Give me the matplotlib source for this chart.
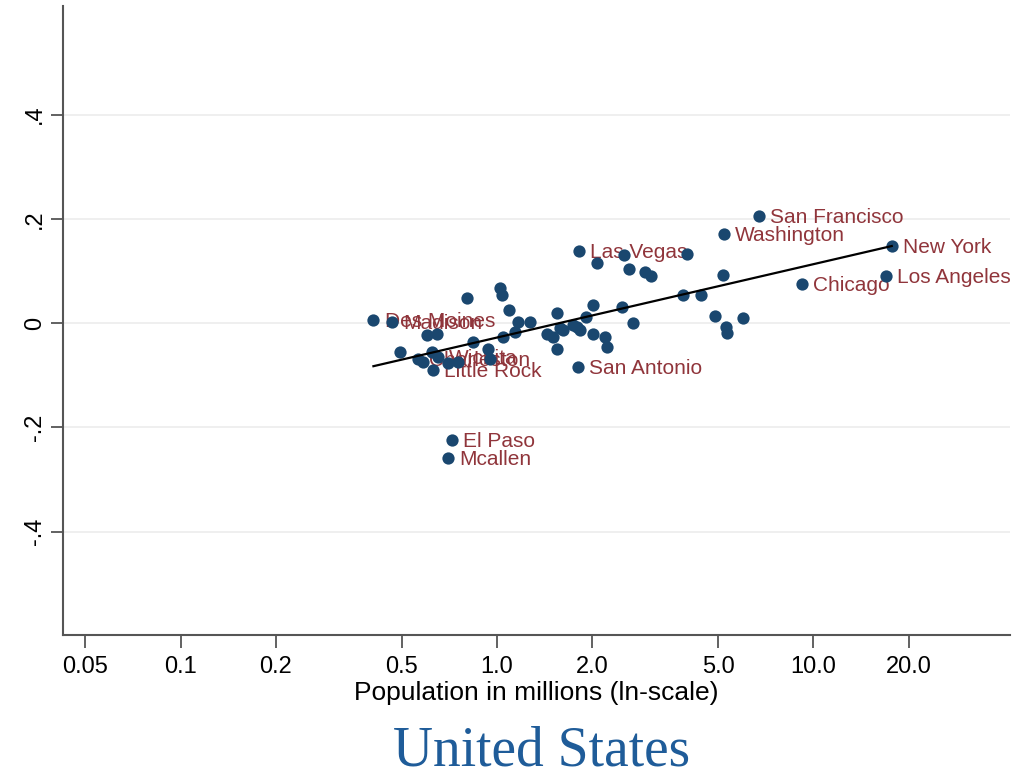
import numpy as np
import matplotlib
matplotlib.use('Agg')
import matplotlib.pyplot as plt

plt.rcParams['font.family'] = ['Liberation Sans', 'DejaVu Sans']

# population in millions and the y value, one entry per city
pop = [0.407, 0.465, 0.802, 1.022, 1.035, 1.094, 1.544, 2.011, 2.477, 2.696,
       0.599, 0.648, 1.168, 1.271, 1.140, 1.047, 0.842, 0.494, 0.564, 0.585,
       0.622, 0.652, 0.702, 0.755, 0.939, 0.950, 0.629, 1.436, 1.506, 1.581,
       1.544, 1.742, 1.829, 2.015, 2.194, 2.222, 1.806, 1.812, 2.070, 2.519,
       2.607, 2.929, 3.060, 3.976, 5.19, 3.862, 4.421, 4.895, 5.291, 5.318,
       5.988, 6.727, 5.215, 17.70, 16.94, 9.20, 0.721, 0.700, 1.911, 1.620,
       1.786]
val = [0.006, 0.002, 0.049, 0.067, 0.054, 0.026, 0.019, 0.035, 0.031, 0.001,
       -0.023, -0.020, 0.002, 0.002, -0.017, -0.026, -0.036, -0.055, -0.068, -0.074,
       -0.055, -0.065, -0.077, -0.074, -0.049, -0.068, -0.090, -0.020, -0.026, -0.010,
       -0.049, -0.004, -0.013, -0.020, -0.026, -0.045, -0.084, 0.139, 0.116, 0.130,
       0.104, 0.098, 0.091, 0.132, 0.092, 0.054, 0.054, 0.013, -0.008, -0.019,
       0.010, 0.205, 0.171, 0.148, 0.090, 0.075, -0.224, -0.259, 0.012, -0.013,
       -0.007]

# labelled cities: index into the arrays above
label_idx = [0, 1, 18, 21, 26, 36, 37, 51, 52, 53, 54, 55, 56, 57]
label_txt = ['Des Moines', 'Madison', 'Charleston', 'Wichita', 'Little Rock',
             'San Antonio', 'Las Vegas', 'San Francisco', 'Washington',
             'New York', 'Los Angeles', 'Chicago', 'El Paso', 'Mcallen']

# linear fit: y = a + b * ln(pop)
fit_a = -0.0275
fit_b = 0.0611

xticks = [0.05, 0.1, 0.2, 0.5, 1.0, 2.0, 5.0, 10.0, 20.0]
xtick_labels = ['0.05', '0.1', '0.2', '0.5', '1.0', '2.0', '5.0', '10.0', '20.0']
yticks = [-0.4, -0.2, 0, 0.2, 0.4]
ytick_labels = ['-.4', '-.2', '0', '.2', '.4']

navy = '#1a476f'
maroon = '#90353b'

fig = plt.figure(figsize=(10.19, 7.78), dpi=100)
ax = fig.add_axes([0.0615, 0.1838, 0.9295, 0.8082])

ax.scatter(pop, val, s=78, color=navy, zorder=3, linewidths=0)
# Stata style labels at 3 o'clock; they overlap in the cluster like the original
for i, t in zip(label_idx, label_txt):
    ax.annotate(t, (pop[i], val[i]), xytext=(8, -1), textcoords='offset points',
                va='center', ha='left', fontsize=15, color=maroon, zorder=2)

xs = np.linspace(min(pop), max(pop), 200)
ax.plot(xs, fit_a + fit_b * np.log(xs), color='black', lw=1.6, zorder=4)

ax.set_xscale('log')
ax.set_xlim(0.0424, 41.8)
ax.set_ylim(-0.598, 0.608)
ax.set_xticks(xticks)
ax.set_xticklabels(xtick_labels, fontsize=17)
ax.xaxis.set_minor_locator(matplotlib.ticker.NullLocator())
ax.set_yticks(yticks)
ax.set_yticklabels(ytick_labels, fontsize=17, rotation=90, va='center')
ax.set_xlabel('Population in millions (ln-scale)', fontsize=19, labelpad=2)

for s in ['top', 'right']:
    ax.spines[s].set_visible(False)
for s in ['left', 'bottom']:
    ax.spines[s].set_color('#555555')
    ax.spines[s].set_linewidth(1.5)
ax.tick_params(length=9, width=1.3, color='#555555')
ax.tick_params(axis='x', pad=6)
ax.tick_params(axis='y', pad=3)
ax.yaxis.grid(True, color='#ececec', lw=1.2)
ax.set_axisbelow(True)

fig.text(0.531, (778 - 752) / 778, 'United States', ha='center', va='center',
         fontsize=40, color='#1f5c99', family='Liberation Serif')

fig.savefig('out.png', dpi=100)
